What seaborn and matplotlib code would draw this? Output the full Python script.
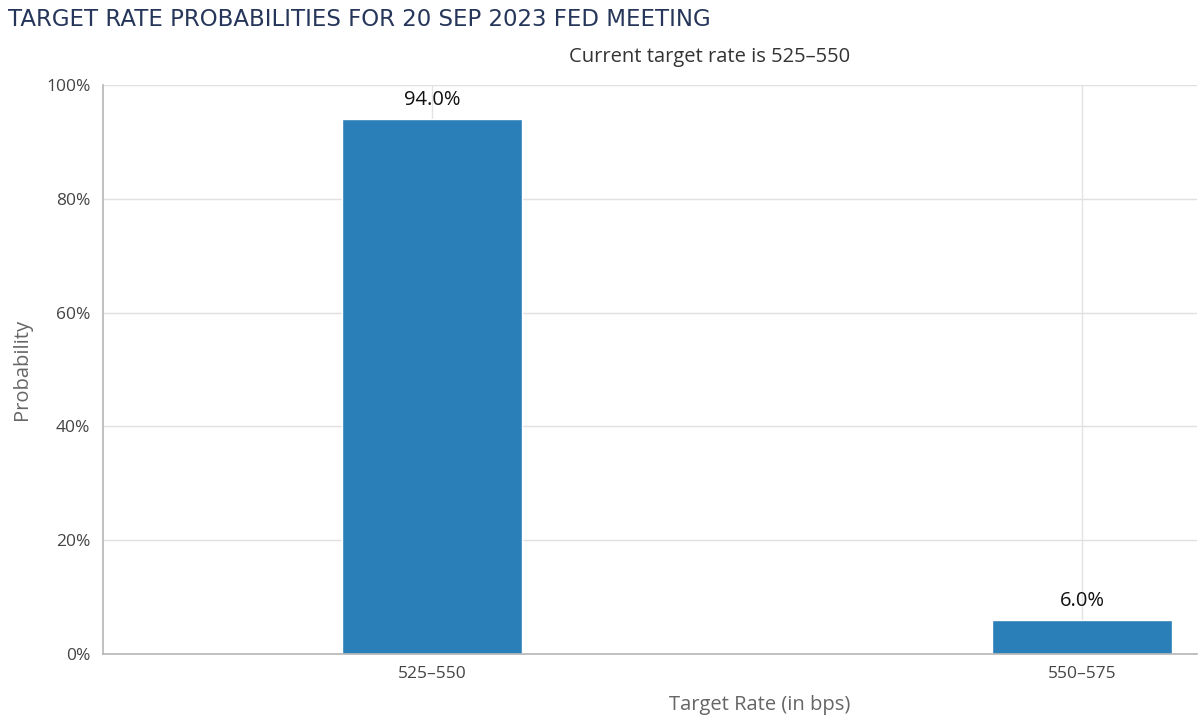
import matplotlib
matplotlib.use("Agg")
import matplotlib.pyplot as plt
import seaborn as sns
import pandas as pd
from matplotlib.ticker import PercentFormatter

# data
rates = ["525–550", "550–575"]
probs = [94.0, 6.0]

df = pd.DataFrame({"rate": rates, "prob": probs})

sns.set_style("white")
plt.rcParams["font.family"] = ["Open Sans", "DejaVu Sans"]

fig = plt.figure(figsize=(11.98, 7.24), dpi=100)
ax = fig.add_axes([103 / 1198, 1 - 654 / 724, 1094 / 1198, 569 / 724])

# vertical grid at category centers, behind bars
for i in range(len(rates)):
    ax.axvline(i, color="#e3e3e3", lw=1, zorder=0)
ax.set_axisbelow(True)
ax.yaxis.grid(True, color="#e0e0e0", lw=1)

sns.barplot(data=df, x="rate", y="prob", color="#2a7fb8", width=0.277,
            saturation=1, ax=ax, zorder=2)

for i, v in enumerate(probs):
    ax.text(i, v + 1.6, f"{v:.1f}%", ha="center", va="bottom",
            fontsize=14.5, color="#111111")

ax.set_xlim(-0.506, 1.177)
ax.set_ylim(0, 100)
ax.set_yticks([0, 20, 40, 60, 80, 100])
ax.yaxis.set_major_formatter(PercentFormatter(decimals=0))

for s in ["top", "right"]:
    ax.spines[s].set_visible(False)
for s in ["left", "bottom"]:
    ax.spines[s].set_color("#b5b5b5")
    ax.spines[s].set_linewidth(1.2)

ax.tick_params(axis="both", labelsize=12.5, colors="#cccccc", length=6, width=1,
               pad=3)
for lab in ax.get_xticklabels() + ax.get_yticklabels():
    lab.set_color("#444444")

ax.set_xlabel("Target Rate (in bps)", fontsize=14.5, color="#666666")
ax.set_ylabel("Probability", fontsize=14.5, color="#666666")
ax.xaxis.set_label_coords(0.6, -0.072)
ax.yaxis.set_label_coords(-0.065, 0.5)

fig.text(8 / 1198, 1 - 20 / 724, "TARGET RATE PROBABILITIES FOR 20 SEP 2023 FED MEETING",
         fontsize=16.5, color="#26365a", ha="left", va="center",
         family=["Liberation Sans Narrow", "DejaVu Sans"])
ax.text(0.554, 1.05, "Current target rate is 525–550", transform=ax.transAxes,
        fontsize=14.5, color="#333333", ha="center", va="center")

fig.savefig("out.png", dpi=100)
